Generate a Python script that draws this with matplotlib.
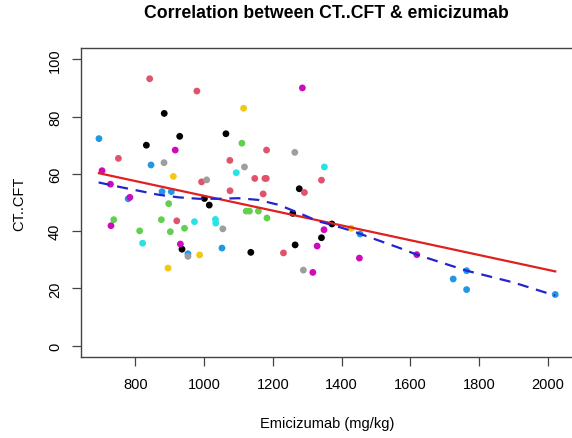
import numpy as np
import matplotlib
matplotlib.use("Agg")
import matplotlib.pyplot as plt

# ---- data ----
black_x = [929, 884, 832, 1063.6, 1001, 1015, 935.7, 1136, 1265, 1277, 1258, 1372, 1341.6]
black_y = [73.1, 81.1, 70, 74, 51.4, 49.1, 33.7, 32.6, 35.2, 54.8, 46.2, 42.5, 37.7]
crimson_x = [841.6, 979, 750.6, 920.5, 992.7, 1075, 1075.5, 1147.5, 1177, 1181, 1181.8, 1172, 1231, 1292, 1341.6]
crimson_y = [93.2, 88.9, 65.4, 43.6, 57.2, 64.7, 54.1, 58.4, 58.4, 58.4, 68.3, 53.0, 32.4, 53.5, 57.8]
green_x = [737, 812.5, 875.6, 897, 901.7, 943, 1110, 1122.6, 1132, 1158, 1183]
green_y = [44, 40.1, 44, 49.6, 39.8, 41, 70.7, 47, 47, 47, 44.6]
blue_x = [694, 845.6, 877.6, 904.6, 953, 1052, 779, 1454, 1725, 1764, 1764, 2022]
blue_y = [72.3, 63.1, 53.8, 53.8, 32.1, 34.1, 51.3, 39, 23.3, 26.2, 19.6, 17.9]
cyan_x = [821, 972, 1033, 1034, 1093.6, 1350]
cyan_y = [35.8, 43.3, 44.1, 42.8, 60.4, 62.4]
magenta_x = [703, 727.5, 729, 784, 916, 931, 1286, 1349, 1329, 1452, 1316.5, 1619]
magenta_y = [61.1, 56.4, 41.9, 51.8, 68.3, 35.5, 90, 40.5, 34.8, 30.6, 25.6, 31.8]
yellow_x = [910.5, 987, 895, 1115, 1428]
yellow_y = [59.1, 31.7, 27.1, 82.9, 41]
gray_x = [883.4, 1007.5, 953, 1054.5, 1117.5, 1264, 1289]
gray_y = [63.9, 57.9, 31.2, 40.8, 62.4, 67.5, 26.4]

# smooth (dashed) curve
smooth_x = [693, 751.5, 809.6, 867.8, 926, 984, 1042, 1100, 1158, 1216.6, 1274.8,
            1333, 1372, 1430, 1488, 1565, 1619, 1764, 1900, 2022]
smooth_y = [57.0, 55.5, 54.1, 52.7, 51.8, 51.3, 51.3, 51.5, 50.9, 49.2, 46.4,
            43.4, 42.2, 40.1, 37.6, 34.3, 31.8, 26.2, 22.1, 17.5]

groups = [
    (black_x, black_y, "#000000"),
    (crimson_x, crimson_y, "#DF536B"),
    (green_x, green_y, "#61D04F"),
    (blue_x, blue_y, "#2297E6"),
    (cyan_x, cyan_y, "#28E2E5"),
    (magenta_x, magenta_y, "#CD0BBC"),
    (yellow_x, yellow_y, "#F5C710"),
    (gray_x, gray_y, "#9E9E9E"),
]

x_ticks = [800, 1000, 1200, 1400, 1600, 1800, 2000]
y_ticks = [0, 20, 40, 60, 80, 100]

title = "Correlation between CT..CFT & emicizumab"
xlabel = "Emicizumab (mg/kg)"
ylabel = "CT..CFT"

all_x = np.concatenate([np.asarray(g[0], float) for g in groups])
all_y = np.concatenate([np.asarray(g[1], float) for g in groups])

plt.rcParams['font.family'] = ['Liberation Sans', 'DejaVu Sans']

fig = plt.figure(figsize=(5.72, 4.39), dpi=100)
W, H = 572, 439
ax = fig.add_axes([80.7 / W, (H - 358.2) / H, (573.5 - 80.7) / W, (358.2 - 48.8) / H])

for gx, gy, c in groups:
    ax.scatter(gx, gy, s=24, color=c, edgecolors='none', zorder=2)

# least-squares regression line
xmin, xmax = all_x.min(), all_x.max()
slope, intercept = np.polyfit(all_x, all_y, 1)
ax.plot([xmin, xmax], [intercept + slope * xmin, intercept + slope * xmax],
        color="#E02020", lw=1.6, zorder=3)

# smooth curve
ax.plot(smooth_x, smooth_y, color="#2424CC", lw=1.6, ls=(0, (5, 3.5)), zorder=3)

rng = xmax - xmin
ax.set_xlim(xmin - 0.04 * rng, xmax + 0.04 * rng)
ax.set_ylim(-4, 104)
ax.set_xticks(x_ticks)
ax.set_yticks(y_ticks)
ax.set_yticklabels([str(v) for v in y_ticks], rotation=90, va='center')
ax.tick_params(axis='both', length=6.5, width=0.9, labelsize=10.5, color="#444444")
ax.tick_params(axis='x', pad=8)
ax.tick_params(axis='y', pad=7)
for sp in ax.spines.values():
    sp.set_color("#444444")
    sp.set_linewidth(1.0)

fig.text(326.7 / W, 1 - 14 / H, title, ha='center', va='center', fontsize=12.7, fontweight='bold')
fig.text(326.7 / W, 1 - 424 / H, xlabel, ha='center', va='center', fontsize=10.5)
fig.text(19 / W, 1 - 204 / H, ylabel, ha='center', va='center', fontsize=10.5, rotation=90)

fig.savefig("out.png", dpi=100)
